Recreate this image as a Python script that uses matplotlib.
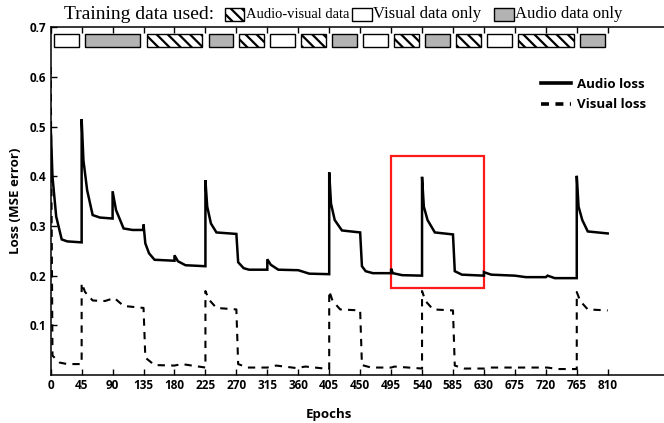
import matplotlib
matplotlib.use("Agg")
import matplotlib.pyplot as plt
from matplotlib.patches import Rectangle
from matplotlib.lines import Line2D

# audio loss (solid)
audio_epochs = [0, 2.6, 8, 16, 24, 45,
                45, 47.6, 53, 61, 71.5, 90,
                90, 95, 106, 119, 135,
                135, 137.6, 143, 151, 180,
                180, 185, 196, 225,
                225, 227.6, 233, 241, 270,
                270, 272.6, 280.6, 288.5, 315,
                315, 320, 331, 360, 376, 405,
                405, 407.6, 413, 423.5, 450,
                450, 452.6, 458, 468.5, 495,
                495, 497.6, 511, 540,
                540, 542.6, 548, 558.6, 585,
                585, 587.6, 598, 630,
                630, 640.6, 675, 691, 720, 722.6, 733, 765,
                765, 767.6, 773, 781, 810]
audio_loss = [0.50, 0.399, 0.319, 0.273, 0.269, 0.267,
              0.515, 0.432, 0.372, 0.322, 0.317, 0.315,
              0.370, 0.332, 0.295, 0.292, 0.292,
              0.303, 0.265, 0.245, 0.232, 0.230,
              0.241, 0.229, 0.221, 0.219,
              0.392, 0.339, 0.305, 0.287, 0.284,
              0.284, 0.227, 0.215, 0.212, 0.212,
              0.233, 0.222, 0.212, 0.211, 0.204, 0.203,
              0.408, 0.345, 0.312, 0.291, 0.287,
              0.287, 0.219, 0.209, 0.205, 0.205,
              0.214, 0.205, 0.201, 0.200,
              0.399, 0.339, 0.312, 0.287, 0.283,
              0.283, 0.209, 0.202, 0.200,
              0.207, 0.202, 0.200, 0.197, 0.197, 0.200, 0.195, 0.195,
              0.401, 0.339, 0.312, 0.289, 0.285]

# visual loss (dashed)
visual_epochs = [0, 2.6, 13, 24, 45,
                 45, 50, 61, 79, 92.6, 106, 135,
                 135, 137.6, 151, 180, 190.6, 225,
                 225, 230, 241, 270,
                 270, 272.6, 286, 315, 328, 357, 370.6, 405,
                 405, 410, 421, 450,
                 450, 452.6, 466, 495, 500, 540,
                 540, 545, 556, 585,
                 585, 587.6, 601, 630, 638, 680, 722, 738, 765,
                 765, 770, 781, 810]
visual_loss = [0.62, 0.039, 0.025, 0.022, 0.022,
               0.185, 0.167, 0.150, 0.149, 0.155, 0.139, 0.135,
               0.135, 0.035, 0.020, 0.019, 0.022, 0.015,
               0.169, 0.152, 0.135, 0.132,
               0.132, 0.022, 0.015, 0.015, 0.019, 0.014, 0.017, 0.012,
               0.169, 0.149, 0.132, 0.130,
               0.130, 0.020, 0.015, 0.015, 0.017, 0.013,
               0.169, 0.149, 0.132, 0.130,
               0.130, 0.019, 0.013, 0.013, 0.015, 0.015, 0.015, 0.012, 0.012,
               0.167, 0.149, 0.132, 0.130]

# training phases (type, length in epochs)
phase_types = ['V', 'A', 'AV', 'A', 'AV', 'V', 'AV', 'A', 'V',
               'AV', 'A', 'AV', 'V', 'AV', 'A']
phase_lengths = [45, 90, 90, 45, 45, 45, 45, 45, 45,
                 45, 45, 45, 45, 90, 45]

highlight_epochs = (495, 630)
highlight_loss = (0.175, 0.44)

x_ticks = list(range(0, 811, 45))
y_ticks = [0.1, 0.2, 0.3, 0.4, 0.5, 0.6, 0.7]

W, H = 664, 423
GRAY = '#b3b3b3'
plt.rcParams['hatch.linewidth'] = 1.6
BOLD = dict(family='Open Sans', weight='bold')


def fx(px):
    return px / W


def fy(py):
    return 1 - py / H


fig = plt.figure(figsize=(W / 100, H / 100), dpi=100)
ax = fig.add_axes([fx(50.7), fy(375), (669.6 - 50.7) / W, (375 - 27.3) / H])

ax.plot(audio_epochs, audio_loss, color='black', lw=1.8, solid_joinstyle='miter')
ax.plot(visual_epochs, visual_loss, color='black', lw=1.5, dashes=(3.5, 3))

# training phase boxes along the top
start = 0
for kind, length in zip(phase_types, phase_lengths):
    fc = {'V': 'white', 'A': GRAY, 'AV': 'white'}[kind]
    hatch = '\\\\\\' if kind == 'AV' else None
    ax.bar(start + 4.5, 0.026, width=length - 9, bottom=0.66, align='edge',
           color=fc, edgecolor='black', linewidth=1.0, hatch=hatch)
    start += length

ax.add_patch(Rectangle((highlight_epochs[0], highlight_loss[0]),
                       highlight_epochs[1] - highlight_epochs[0],
                       highlight_loss[1] - highlight_loss[0],
                       fill=False, edgecolor='#ff1a1a', lw=1.6))

ax.set_xlim(0, 900)
ax.set_ylim(0, 0.7)
ax.set_xticks(x_ticks)
ax.set_yticks(y_ticks)
ax.set_yticklabels([f'{v:.1f}' for v in y_ticks])
ax.tick_params(direction='in', length=4.5, width=1, top=True, right=True,
               labelsize=8.5, pad=3)
for lab in ax.get_xticklabels() + ax.get_yticklabels():
    lab.set_fontfamily('Open Sans')
    lab.set_fontweight('bold')
for s in ax.spines.values():
    s.set_linewidth(1.1)

ax.set_xlabel('Epochs', fontsize=9.5, labelpad=8, **BOLD)
ax.xaxis.set_label_coords(405 / 900, -0.095)
ax.set_ylabel('Loss (MSE error)', fontsize=9.5, labelpad=6, **BOLD)

handles = [Line2D([], [], color='black', lw=2.6),
           Line2D([], [], color='black', lw=2.6, dashes=(2.2, 1.8))]
ax.legend(handles, ['Audio loss', 'Visual loss'], loc='upper left',
          bbox_to_anchor=(fx(529), fy(66)), bbox_transform=fig.transFigure,
          frameon=False, handlelength=2.3, handletextpad=0.45, labelspacing=0.55,
          prop=dict(family='Open Sans', weight='bold', size=9.5))

# header legend for the phase boxes
ty = fy(14.5)
fig.text(fx(63.5), ty, 'Training data used:', family='Liberation Serif',
         fontsize=14, va='center')
for x0, fc, hatch, label, size in [(224.6, 'white', '\\\\\\', 'Audio-visual data', 10.5),
                                   (352, 'white', None, 'Visual data only', 12),
                                   (494, GRAY, None, 'Audio data only', 12)]:
    fig.add_artist(Rectangle((fx(x0), fy(21)), 19.5 / W, 12.5 / H,
                             transform=fig.transFigure, facecolor=fc,
                             edgecolor='black', lw=1.0, hatch=hatch))
    fig.text(fx(x0 + 21), ty, label, family='Liberation Serif', fontsize=size,
             va='center')

fig.savefig('out.png', dpi=100)
